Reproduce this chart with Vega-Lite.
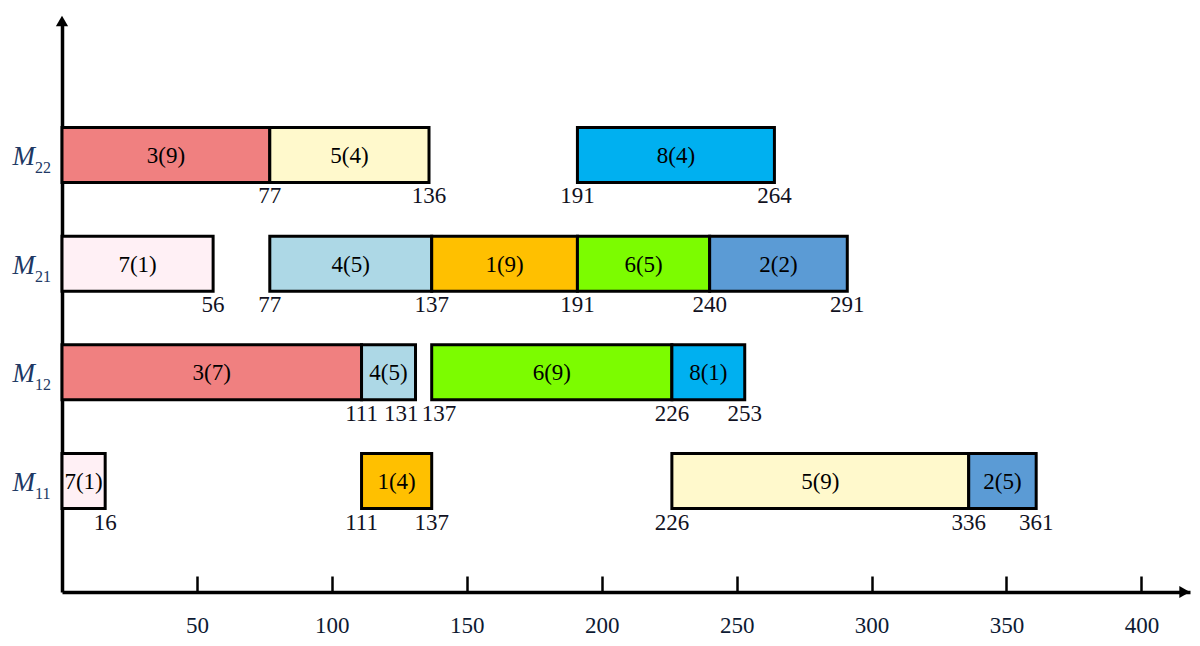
{
  "$schema": "https://vega.github.io/schema/vega-lite/v6.json",
  "width": 1128,
  "height": 571,
  "autosize": "none",
  "padding": {"left": 62, "top": 21, "right": 10, "bottom": 54},
  "background": "white",
  "config": {
    "view": {"stroke": null},
    "text": {"font": "Liberation Serif"},
    "axis": {"labelFont": "Liberation Serif"}
  },
  "datasets": {
    "bars": [
      {"row": "M22", "task": "3(9)", "job": 3, "start": 0, "end": 77},
      {"row": "M22", "task": "5(4)", "job": 5, "start": 77, "end": 136},
      {"row": "M22", "task": "8(4)", "job": 8, "start": 191, "end": 264},
      {"row": "M21", "task": "7(1)", "job": 7, "start": 0, "end": 56},
      {"row": "M21", "task": "4(5)", "job": 4, "start": 77, "end": 137},
      {"row": "M21", "task": "1(9)", "job": 1, "start": 137, "end": 191},
      {"row": "M21", "task": "6(5)", "job": 6, "start": 191, "end": 240},
      {"row": "M21", "task": "2(2)", "job": 2, "start": 240, "end": 291},
      {"row": "M12", "task": "3(7)", "job": 3, "start": 0, "end": 111},
      {"row": "M12", "task": "4(5)", "job": 4, "start": 111, "end": 131},
      {"row": "M12", "task": "6(9)", "job": 6, "start": 137, "end": 226},
      {"row": "M12", "task": "8(1)", "job": 8, "start": 226, "end": 253},
      {"row": "M11", "task": "7(1)", "job": 7, "start": 0, "end": 16},
      {"row": "M11", "task": "1(4)", "job": 1, "start": 111, "end": 137},
      {"row": "M11", "task": "5(9)", "job": 5, "start": 226, "end": 336},
      {"row": "M11", "task": "2(5)", "job": 2, "start": 336, "end": 361}
    ],
    "machines": [
      {"row": "M22", "m": "M", "sub": "22"},
      {"row": "M21", "m": "M", "sub": "21"},
      {"row": "M12", "m": "M", "sub": "12"},
      {"row": "M11", "m": "M", "sub": "11"}
    ]
  },
  "layer": [
    {
      "data": {"name": "bars"},
      "layer": [
        {
          "mark": {"type": "bar", "stroke": "black", "strokeWidth": 3, "opacity": 1},
          "encoding": {
            "x": {
              "field": "start", "type": "quantitative",
              "scale": {"domain": [0, 418], "nice": false, "zero": false},
              "axis": {
                "values": [50, 100, 150, 200, 250, 300, 350, 400],
                "title": null, "grid": false, "domain": true, "ticks": true, "labels": true,
                "domainColor": "black", "domainWidth": 3.5,
                "tickColor": "black", "tickWidth": 2.5, "tickSize": -16,
                "labelFontSize": 23, "labelColor": "#0d1a33",
                "labelPadding": 38, "labelBaseline": "top"
              }
            },
            "x2": {"field": "end"},
            "y": {
              "field": "row", "type": "nominal",
              "scale": {"domain": ["M22", "M21", "M12", "M11"], "paddingInner": 0.494, "paddingOuter": 0.874, "align": 0.5605},
              "axis": {"domain": true, "domainColor": "black", "domainWidth": 3.5, "ticks": false, "labels": false, "title": null, "grid": false}
            },
            "color": {
              "field": "job", "type": "nominal", "legend": null,
              "scale": {
                "domain": [1, 2, 3, 4, 5, 6, 7, 8],
                "range": ["#FFC000", "#5B9BD5", "#F08080", "#ADD8E6", "#FFF9CC", "#7CFC00", "#FFF0F5", "#00B0F0"]
              }
            }
          }
        },
        {
          "transform": [{"fold": ["start", "end"], "as": ["k", "t"]}],
          "mark": {"type": "text", "fontSize": 23, "color": "black", "baseline": "middle", "dy": 1},
          "encoding": {
            "x": {"field": "t", "type": "quantitative", "aggregate": "mean"},
            "y": {"field": "row", "type": "nominal"},
            "text": {"field": "task"}
          }
        },
        {
          "transform": [
            {"fold": ["start", "end"], "as": ["k", "t"]},
            {"aggregate": [{"op": "count", "as": "n"}], "groupby": ["row", "t"]},
            {"filter": "datum.t > 0 && !(datum.row === 'M12' && (datum.t === 131 || datum.t === 137))"}
          ],
          "mark": {"type": "text", "fontSize": 23, "color": "#111122", "baseline": "top", "dy": 3},
          "encoding": {
            "x": {"field": "t", "type": "quantitative"},
            "y": {"field": "row", "type": "nominal", "bandPosition": 1},
            "text": {"field": "t"}
          }
        },
        {
          "transform": [{"filter": "datum.row === 'M12' && datum.end === 131"}],
          "mark": {"type": "text", "fontSize": 23, "color": "#111122", "baseline": "top", "align": "right", "dy": 3, "dx": 3},
          "encoding": {
            "x": {"field": "end", "type": "quantitative"},
            "y": {"field": "row", "type": "nominal", "bandPosition": 1},
            "text": {"field": "end"}
          }
        },
        {
          "transform": [{"filter": "datum.row === 'M12' && datum.start === 137"}],
          "mark": {"type": "text", "fontSize": 23, "color": "#111122", "baseline": "top", "align": "left", "dy": 3, "dx": -10},
          "encoding": {
            "x": {"field": "start", "type": "quantitative"},
            "y": {"field": "row", "type": "nominal", "bandPosition": 1},
            "text": {"field": "start"}
          }
        },
        {
          "data": {"name": "machines"},
          "mark": {"type": "text", "fontSize": 27, "fontStyle": "italic", "color": "#203864", "align": "right", "baseline": "alphabetic", "dy": 10},
          "encoding": {
            "x": {"datum": -10, "type": "quantitative"},
            "y": {"field": "row", "type": "nominal"},
            "text": {"field": "m"}
          }
        },
        {
          "data": {"name": "machines"},
          "mark": {"type": "text", "fontSize": 16, "color": "#203864", "align": "left", "baseline": "alphabetic", "dy": 18},
          "encoding": {
            "x": {"datum": -10, "type": "quantitative"},
            "y": {"field": "row", "type": "nominal"},
            "text": {"field": "sub"}
          }
        }
      ]
    },
    {
      "data": {"values": [{}]},
      "layer": [
        {
          "mark": {"type": "point", "shape": "triangle-up", "filled": true, "color": "black", "opacity": 1, "size": 150},
          "encoding": {
            "x": {"datum": 0, "type": "quantitative"},
            "y": {"datum": 1, "type": "quantitative", "scale": {"domain": [0, 1]}, "axis": null}
          }
        },
        {
          "mark": {"type": "point", "shape": "triangle-right", "filled": true, "color": "black", "opacity": 1, "size": 150},
          "encoding": {
            "x": {"datum": 416, "type": "quantitative"},
            "y": {"datum": 0, "type": "quantitative", "scale": {"domain": [0, 1]}, "axis": null}
          }
        }
      ]
    }
  ],
  "resolve": {"scale": {"y": "independent"}}
}
